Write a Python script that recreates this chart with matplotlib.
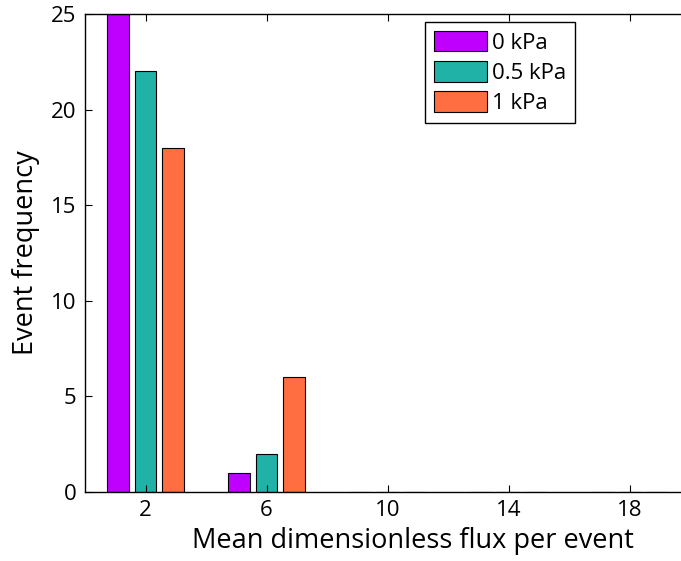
import numpy as np
import matplotlib.pyplot as plt

plt.rcParams['font.family'] = ['Open Sans', 'DejaVu Sans']

centers = [2, 6, 10, 14, 18]
labels = ['0 kPa', '0.5 kPa', '1 kPa']
f0 = [25, 1, 0, 0, 0]
f05 = [22, 2, 0, 0, 0]
f1 = [18, 6, 0, 0, 0]
colors = ['#bf00ff', '#20b2a6', '#ff6e40']

fig = plt.figure(figsize=(6.81, 5.61), dpi=100)
ax = fig.add_axes([85/681, 69/561, 605/681, 478/561])

x = np.array(centers)
w = 0.72
for off, vals, c, lab in zip([-0.9, 0, 0.9], [f0, f05, f1], colors, labels):
    ax.bar(x + off, vals, width=w, color=c, edgecolor='black', linewidth=0.8, label=lab)

ax.set_xlim(0, 20)
ax.set_ylim(0, 25)
ax.set_xticks(centers)
ax.set_yticks([0, 5, 10, 15, 20, 25])
ax.tick_params(direction='in', top=True, right=True, labelsize=16, length=5, pad=6)
for s in ax.spines.values():
    s.set_linewidth(1.0)

ax.set_xlabel('Mean dimensionless flux per event', fontsize=19.5)
ax.xaxis.set_label_coords(0.542, -0.073)
ax.set_ylabel('Event frequency', fontsize=19.5, labelpad=8)

leg = ax.legend(loc='upper left', bbox_to_anchor=(425/681, 1 - 22/561),
                bbox_transform=fig.transFigure, fontsize=16, fancybox=False,
                edgecolor='black', framealpha=1, handlelength=2.4, handleheight=1.05,
                handletextpad=0.2, borderpad=0.4, labelspacing=0.33, borderaxespad=0)
leg.get_frame().set_linewidth(1.0)

fig.savefig('out.png', dpi=100)
